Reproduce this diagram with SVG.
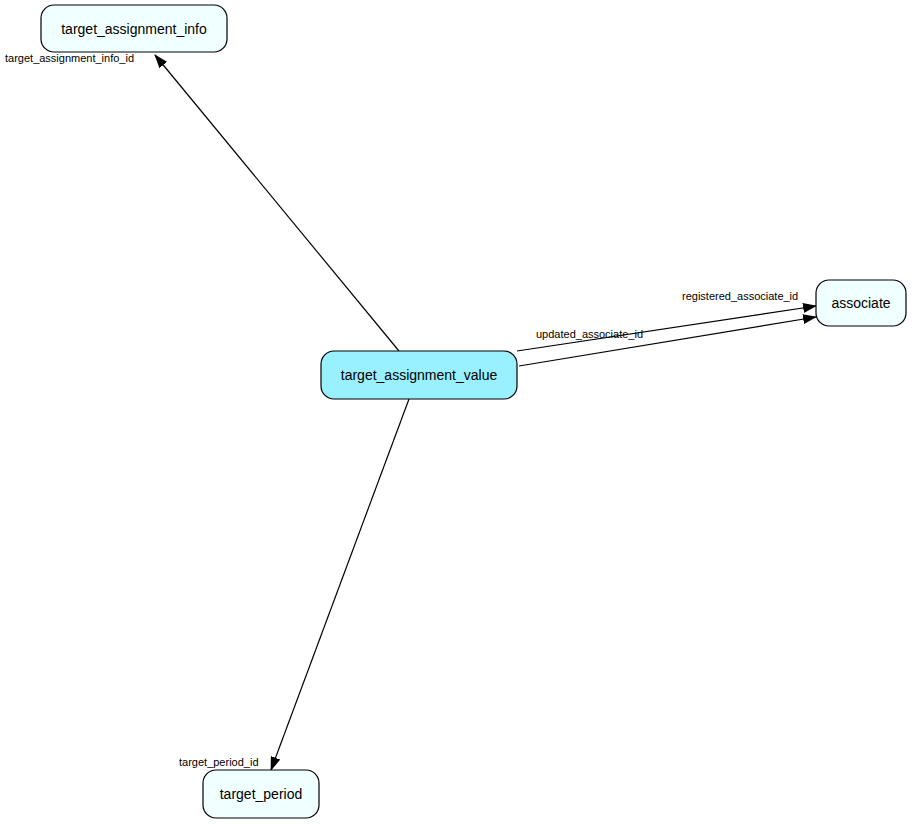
<svg xmlns="http://www.w3.org/2000/svg" width="912" height="824" viewBox="0 0 912 824">
<style>
.n{fill:#f0ffff;stroke:#000;stroke-width:1.2}
.c{fill:#99f0ff;stroke:#000;stroke-width:1.2}
.t{font-family:"Liberation Sans",Arial,sans-serif;font-size:14px;text-anchor:middle;fill:#000}
.l{font-family:"Liberation Sans",Arial,sans-serif;font-size:11px;fill:#000}
.e{stroke:#000;stroke-width:1.2;fill:none;marker-end:url(#a)}
</style>
<defs><marker id="a" markerWidth="14" markerHeight="10" refX="13" refY="5" orient="auto" markerUnits="userSpaceOnUse"><path d="M0,0 L14,5 L0,10 Z" fill="#000"/></marker></defs>
<rect width="912" height="824" fill="#fff"/>
<g id="edges">
<line class="e" x1="399" y1="351" x2="155" y2="55"/>
<line class="e" x1="517" y1="351" x2="816" y2="306"/>
<line class="e" x1="519" y1="366" x2="816" y2="317"/>
<line class="e" x1="409" y1="399" x2="271" y2="770"/>
<text class="l" x="5" y="62">target_assignment_info_id</text>
<text class="l" x="682" y="300">registered_associate_id</text>
<text class="l" x="536" y="338">updated_associate_id</text>
<text class="l" x="179" y="766">target_period_id</text>
</g>
<g id="target_assignment_info"><rect class="n" x="41" y="5" width="186" height="47" rx="13"/><text class="t" x="134" y="34">target_assignment_info</text></g>
<g id="associate"><rect class="n" x="816" y="280" width="90" height="46" rx="13"/><text class="t" x="861" y="308">associate</text></g>
<g id="target_assignment_value"><rect class="c" x="321" y="351" width="196" height="48" rx="13"/><text class="t" x="419" y="380">target_assignment_value</text></g>
<g id="target_period"><rect class="n" x="203" y="770" width="116" height="48" rx="13"/><text class="t" x="261" y="799">target_period</text></g>
</svg>
